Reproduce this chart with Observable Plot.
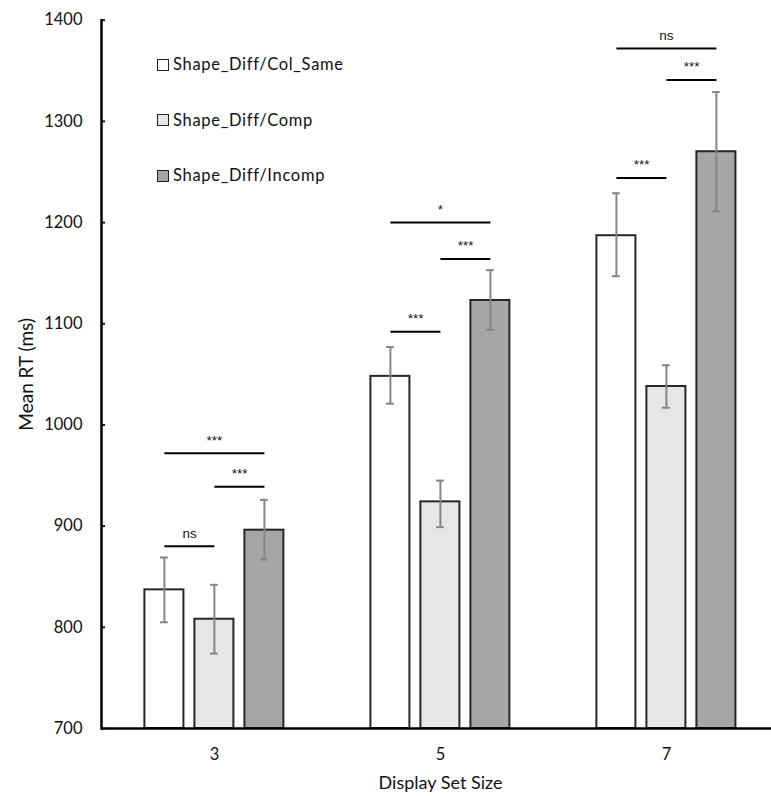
<!DOCTYPE html>
<html>
<head>
<meta charset="utf-8">
<script src="https://cdn.jsdelivr.net/npm/d3@7"></script>
<script src="https://cdn.jsdelivr.net/npm/@observablehq/plot@0.6"></script>
<style>
  html, body { margin: 0; padding: 0; background: #fff; overflow: hidden; }
  #wrap { position: relative; width: 780px; height: 796px; overflow: hidden; font-family: Lato, sans-serif; }
  #legend { position: absolute; left: 157px; top: 53px; }
  .lg-row { height: 23px; line-height: 23px; margin-bottom: 32.5px; display: flex; align-items: center; font-size: 16.5px; letter-spacing: 0.7px; color: #111; }
  .lg-sw { width: 10px; height: 10px; border: 1px solid #222; margin-right: 4px; }
</style>
</head>
<body>
<div id="wrap"><div id="legend"></div></div>
<script>
// ---- data ----
const setSizes = [3, 5, 7];
const conditions = ["Shape_Diff/Col_Same", "Shape_Diff/Comp", "Shape_Diff/Incomp"];
const conditionColors = ["#ffffff", "#e6e6e6", "#a6a6a6"];

const colSameMean = [837, 1048, 1187];
const colSameLo   = [805, 1021, 1147];
const colSameHi   = [869, 1077, 1229];

const compMean = [808, 924, 1038];
const compLo   = [774, 899, 1017];
const compHi   = [842, 945, 1059];

const incompMean = [896, 1123, 1270];
const incompLo   = [867, 1094, 1211];
const incompHi   = [926, 1153, 1329];

// significance brackets: set size, from condition index, to condition index, height (ms), label
const sigSetSize = [3, 3, 3, 5, 5, 5, 7, 7, 7];
const sigFrom    = [0, 1, 0, 0, 1, 0, 0, 1, 0];
const sigTo      = [1, 2, 2, 1, 2, 2, 1, 2, 2];
const sigLevel   = [880, 939, 972, 1092, 1164, 1200, 1244, 1341, 1372];
const sigLabel   = ["ns", "***", "***", "***", "***", "*", "***", "***", "ns"];

const yTicks = [700, 800, 900, 1000, 1100, 1200, 1300, 1400];

// ---- tables built from the arrays ----
const series = [
  {mean: colSameMean, lo: colSameLo, hi: colSameHi},
  {mean: compMean, lo: compLo, hi: compHi},
  {mean: incompMean, lo: incompLo, hi: incompHi}
];
const rows = [];
setSizes.forEach((s, i) => series.forEach((ser, c) => rows.push({
  size: s, cond: conditions[c], mean: ser.mean[i], lo: ser.lo[i], hi: ser.hi[i]
})));
const sigs = sigSetSize.map((s, i) => ({
  size: s, from: conditions[sigFrom[i]], to: conditions[sigTo[i]],
  mid: conditions[(sigFrom[i] + sigTo[i]) / 2] ?? null,
  span: sigTo[i] - sigFrom[i], y: sigLevel[i], label: sigLabel[i]
}));

// ---- layout ----
const W = 780, H = 796;
const mLeft = 100.6, mRight = 0, mTop = 19.7, mBottom = 68;
const padInner = 0.22, padOuter = 0.86;
const facetW = (W - mLeft - mRight) / setSizes.length;
const step = facetW / (conditions.length - padInner + 2 * padOuter);
const bw = step * (1 - padInner);
const capW = 8;

const chart = Plot.plot({
  width: W, height: H,
  marginLeft: mLeft, marginRight: mRight, marginTop: mTop, marginBottom: mBottom,
  style: {fontFamily: "Lato, sans-serif", fontSize: "16.5px", color: "#111", background: "#fff", maxWidth: "none", overflow: "visible"},
  fx: {domain: setSizes, padding: 0, axis: "bottom", tickSize: 0, tickPadding: 20,
       label: "Display Set Size", labelAnchor: "center", labelOffset: 60, labelArrow: "none"},
  x: {domain: conditions, paddingInner: padInner, paddingOuter: padOuter, axis: null},
  y: {domain: [700, 1400], ticks: yTicks, tickFormat: d => String(d), tickSize: -4, tickPadding: 23,
      label: "Mean RT (ms)", labelAnchor: "center", labelOffset: 82, labelArrow: "none"},
  color: {domain: conditions, range: conditionColors},
  marks: [
    Plot.barY(rows, {fx: "size", x: "cond", y1: 700, y2: "mean", fill: "cond", stroke: "#262626", strokeWidth: 2}),
    Plot.ruleX(rows, {fx: "size", x: "cond", y1: "lo", y2: "hi", stroke: "#858585", strokeWidth: 2}),
    Plot.tickY(rows, {fx: "size", x: "cond", y: "lo", stroke: "#858585", strokeWidth: 2, insetLeft: (bw - capW) / 2, insetRight: (bw - capW) / 2}),
    Plot.tickY(rows, {fx: "size", x: "cond", y: "hi", stroke: "#858585", strokeWidth: 2, insetLeft: (bw - capW) / 2, insetRight: (bw - capW) / 2}),
    Plot.ruleY([700], {stroke: "#000", strokeWidth: 2.5}),
    Plot.frame({anchor: "left", facetAnchor: "left", stroke: "#000", strokeWidth: 2.5}),
    Plot.link(sigs, {fx: "size", x1: "from", x2: "to", y1: "y", y2: "y", stroke: "#000", strokeWidth: 2}),
    Plot.text(sigs.filter(d => d.span === 2), {fx: "size", x: "mid", y: "y", text: "label", dy: -13,
      fontFamily: "Liberation Sans, Arial, sans-serif", fontSize: 13.5, fill: "#111"}),
    Plot.text(sigs.filter(d => d.span === 1), {fx: "size", x: "from", y: "y", text: "label", dy: -13, dx: step / 2,
      fontFamily: "Liberation Sans, Arial, sans-serif", fontSize: 13.5, fill: "#111"})
  ]
});

// axis title sizes and tick colour
const sel = d3.select(chart);
sel.selectAll('[aria-label="y-axis label"]').attr("font-size", 19).style("font-size", "19px");
sel.selectAll('[aria-label="fx-axis label"]').attr("font-size", 18).style("font-size", "18px");
sel.selectAll('[aria-label="y-axis tick"]').attr("stroke", "#000").attr("stroke-width", 2);

document.getElementById("wrap").appendChild(chart);

// legend (HTML overlay)
const legend = document.getElementById("legend");
conditions.forEach((c, i) => {
  const row = document.createElement("div");
  row.className = "lg-row";
  const sw = document.createElement("span");
  sw.className = "lg-sw";
  sw.style.background = conditionColors[i];
  const t = document.createElement("span");
  t.textContent = c;
  row.appendChild(sw); row.appendChild(t);
  legend.appendChild(row);
});
</script>
</body>
</html>
